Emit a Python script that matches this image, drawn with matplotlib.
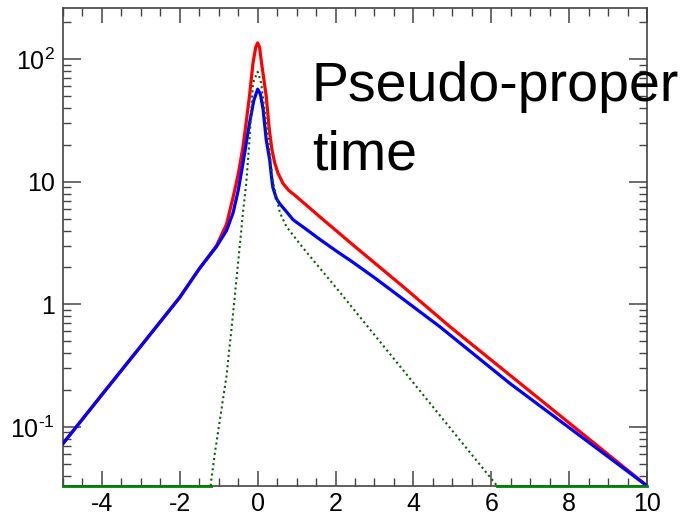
import matplotlib
matplotlib.use("Agg")
import matplotlib.pyplot as plt
from matplotlib.ticker import MultipleLocator, LogLocator, NullFormatter, FixedLocator, FixedFormatter

plt.rcParams['font.family'] = ['Liberation Sans', 'DejaVu Sans']
plt.rcParams['mathtext.fontset'] = 'custom'
plt.rcParams['mathtext.rm'] = 'Liberation Sans'
plt.rcParams['mathtext.it'] = 'Liberation Sans:italic'
plt.rcParams['axes.unicode_minus'] = False

# ---- data ----
red_x = [-5.0, -4.0, -3.0, -2.0, -1.5, -1.06, -0.8, -0.63, -0.5, -0.38, -0.32, -0.21,
         -0.12, -0.05, 0.0, 0.05, 0.1, 0.22, 0.3, 0.37, 0.44, 0.52, 0.65, 0.8, 0.99,
         1.59, 2.45, 3.74, 4.94, 10.0]
red_y = [0.073, 0.183, 0.456, 1.14, 1.95, 3.0, 4.5, 7.5, 11.5, 19, 26.5, 50,
         93, 125, 136, 125, 93, 50, 26.5, 18, 14.2, 11.8, 9.7, 8.5, 7.6,
         5.2, 3.05, 1.39, 0.656, 0.033]

blue_x = [-5.0, -4.0, -3.0, -2.0, -1.5, -1.06, -0.8, -0.63, -0.5, -0.38, -0.21, -0.1,
          0.0, 0.07, 0.14, 0.22, 0.31, 0.35, 0.39, 0.48, 0.57, 0.72, 0.91, 1.2, 1.59,
          2.0, 2.45, 3.0, 3.74, 4.68, 6.48, 10.0]
blue_y = [0.073, 0.183, 0.456, 1.14, 1.95, 2.95, 4.0, 5.6, 8.5, 14, 30, 46,
          57, 52, 39, 22, 15, 11.4, 9.0, 7.3, 6.6, 5.8, 4.9, 4.2, 3.4,
          2.75, 2.2, 1.65, 1.10, 0.656, 0.226, 0.033]

green_x = [-1.21, -1.1, -0.8, -0.63, -0.46, -0.38, -0.29, -0.21, -0.12, 0.0,
           0.09, 0.27, 0.39, 0.48, 0.57, 0.74, 1.16, 2.02, 2.79, 6.15]
green_y = [0.033, 0.061, 0.26, 0.85, 3.0, 5.5, 10, 22, 64, 79,
           64, 22, 10, 7.6, 5.6, 4.3, 2.9, 1.36, 0.68, 0.033]

# empty-bin ranges of the green histogram (drawn on the bottom axis)
green_empty_left = [-5.0, -1.21]
green_empty_right = [6.15, 10.0]

xlim = (-5.0, 10.0)
ylim = (0.0329, 262.0)
ytick_vals = [0.1, 1, 10, 100]
ytick_labels = [r'$\mathregular{10^{\text{-}1}}$', '1', '10', r'$\mathregular{10^{2}}$']
xtick_vals = [-4, -2, 0, 2, 4, 6, 8, 10]
xtick_labels = ['-4', '-2', '0', '2', '4', '6', '8', '10']
label_text = ['Pseudo-proper', 'time']

# ---- figure ----
fig = plt.figure(figsize=(6.98, 5.16), dpi=100)
ax = fig.add_axes([63 / 698, 1 - 486 / 516, (647 - 63) / 698, (486 - 8) / 516])

ax.plot(red_x, red_y, color='#ff0000', lw=2.3, zorder=3, solid_joinstyle='round')
ax.plot(blue_x, blue_y, color='#0000ff', lw=2.3, zorder=4, solid_joinstyle='round')
ax.plot(green_x, green_y, color='#006400', lw=1.5, ls=(0, (1, 1.5)), zorder=5)
ax.plot(green_empty_left, [ylim[0]] * 2, color='#008000', lw=2.0, clip_on=False, zorder=6)
ax.plot(green_empty_right, [ylim[0]] * 2, color='#008000', lw=2.0, clip_on=False, zorder=6)

ax.set_yscale('log')
ax.set_xlim(*xlim)
ax.set_ylim(*ylim)

ax.xaxis.set_major_locator(FixedLocator(xtick_vals))
ax.xaxis.set_major_formatter(FixedFormatter(xtick_labels))
ax.xaxis.set_minor_locator(MultipleLocator(0.5))
ax.yaxis.set_major_locator(FixedLocator(ytick_vals))
ax.yaxis.set_major_formatter(FixedFormatter(ytick_labels))
ax.yaxis.set_minor_locator(LogLocator(base=10, subs=[2, 3, 4, 5, 6, 7, 8, 9], numticks=20))
ax.yaxis.set_minor_formatter(NullFormatter())

tc = '#444444'
ax.tick_params(axis='x', which='major', direction='in', length=11, width=1.1,
               top=True, color=tc, labelsize=18, pad=4)
ax.tick_params(axis='x', which='minor', direction='in', length=5.5, width=1.0,
               top=True, color=tc)
ax.tick_params(axis='y', which='major', direction='in', length=13, width=1.1,
               right=True, color=tc, labelsize=18, pad=6)
ax.tick_params(axis='y', which='minor', direction='in', length=6, width=1.0,
               right=True, color=tc)
for s in ax.spines.values():
    s.set_color(tc)
    s.set_linewidth(1.2)

fig.text(312 / 698, 1 - 101 / 516, label_text[0], fontsize=40, ha='left', va='baseline', color='black')
fig.text(312 / 698, 1 - 170 / 516, label_text[1], fontsize=40, ha='left', va='baseline', color='black')

fig.savefig('out.png', dpi=100)
